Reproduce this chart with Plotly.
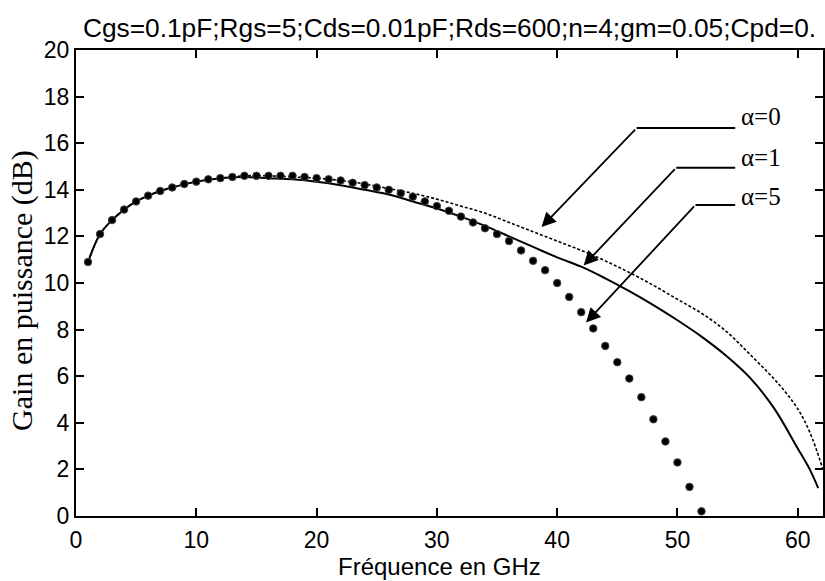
import plotly.graph_objects as go

# Gain en puissance vs fréquence for three values of alpha
freq_a0 = [1, 2, 3, 4, 5, 6, 7, 8, 10, 12, 14, 16, 18, 20, 22, 24, 26, 28, 30, 32, 34,
           36, 38, 40, 42, 44, 46, 48, 50, 52, 54, 56, 58, 59, 60, 61, 62.1]
gain_a0 = [10.9, 12.1, 12.7, 13.15, 13.5, 13.75, 13.95, 14.1, 14.35, 14.5, 14.6, 14.6,
           14.55, 14.5, 14.4, 14.25, 14.05, 13.85, 13.6, 13.3, 13.0, 12.6, 12.2, 11.8,
           11.4, 10.95, 10.45, 9.9, 9.3, 8.7, 7.95, 6.95, 5.9, 5.3, 4.6, 3.6, 2.0]

freq_a1 = [1, 2, 3, 4, 5, 6, 7, 8, 10, 12, 14, 16, 18, 20, 22, 24, 26, 28, 30, 32, 34,
           36, 38, 40, 42, 44, 46, 48, 50, 52, 54, 56, 58, 60, 61, 61.7]
gain_a1 = [10.9, 12.1, 12.7, 13.15, 13.5, 13.75, 13.95, 14.1, 14.35, 14.5, 14.55, 14.5,
           14.45, 14.35, 14.2, 14.0, 13.8, 13.5, 13.2, 12.85, 12.45, 12.0, 11.55, 11.1,
           10.7, 10.2, 9.65, 9.05, 8.4, 7.7, 6.9, 5.95, 4.65, 2.9, 2.0, 1.2]

freq_a5 = list(range(1, 53))
gain_a5 = [10.9, 12.1, 12.7, 13.15, 13.5, 13.75, 13.95, 14.1, 14.25, 14.35, 14.45, 14.5,
           14.55, 14.6, 14.6, 14.6, 14.6, 14.6, 14.55, 14.5, 14.45, 14.4, 14.3, 14.2,
           14.1, 14.0, 13.85, 13.7, 13.5, 13.3, 13.1, 12.85, 12.6, 12.35, 12.1, 11.8,
           11.4, 10.95, 10.55, 10.0, 9.4, 8.75, 8.05, 7.3, 6.6, 5.9, 5.1, 4.15, 3.2,
           2.3, 1.25, 0.2]

x_ticks = [0, 10, 20, 30, 40, 50, 60]
y_ticks = [0, 2, 4, 6, 8, 10, 12, 14, 16, 18, 20]

# Callout labels: text, label height, arrow tip (x, y), elbow (x, y)
callout_text = ["\u03b1=0", "\u03b1=1", "\u03b1=5"]
callout_text_y = [17.15, 15.4, 13.7]
callout_tip_x = [38.7, 42.2, 42.4]
callout_tip_y = [12.4, 10.75, 8.3]
callout_elbow_x = [46.6, 49.9, 51.5]
callout_elbow_y = [16.65, 14.95, 13.35]
callout_end_x = 54.8
callout_label_x = 55.1

title_text = "Cgs=0.1pF;Rgs=5;Cds=0.01pF;Rds=600;n=4;gm=0.05;Cpd=0."

W, H = 825, 581
ML, MR, MT, MB = 76, 2, 50, 65

fig = go.Figure()

fig.add_trace(go.Scatter(
    x=freq_a0, y=gain_a0, mode="lines", name="\u03b1=0",
    line=dict(color="black", width=1.6, dash="3px,2px", shape="spline"),
))
fig.add_trace(go.Scatter(
    x=freq_a1, y=gain_a1, mode="lines", name="\u03b1=1",
    line=dict(color="black", width=2, shape="spline"),
))
fig.add_trace(go.Scatter(
    x=freq_a5, y=gain_a5, mode="markers", name="\u03b1=5",
    marker=dict(color="black", size=7.5, symbol="circle",
                line=dict(color="#444", width=1)),
))

sans = "Liberation Sans, Arial, sans-serif"
serif = "Liberation Serif, Times New Roman, serif"

for i, txt in enumerate(callout_text):
    fig.add_shape(type="line", xref="x", yref="y",
                  x0=callout_elbow_x[i], y0=callout_elbow_y[i],
                  x1=callout_end_x, y1=callout_elbow_y[i],
                  line=dict(color="black", width=2))
    fig.add_annotation(x=callout_tip_x[i], y=callout_tip_y[i],
                       ax=callout_elbow_x[i], ay=callout_elbow_y[i],
                       xref="x", yref="y", axref="x", ayref="y",
                       text="", showarrow=True, arrowhead=2, arrowsize=1.6,
                       arrowwidth=1.8, arrowcolor="black")
    fig.add_annotation(x=callout_label_x, y=callout_text_y[i], xref="x", yref="y",
                       text=txt, showarrow=False, xanchor="left", yanchor="middle",
                       font=dict(family=serif, size=25, color="black"))

# Axis titles
fig.add_annotation(text="Gain en puissance (dB)", xref="paper", yref="paper",
                   x=(22 - ML) / (W - ML - MR), y=0.483, textangle=-90,
                   showarrow=False, xanchor="center", yanchor="middle",
                   font=dict(family=serif, size=30, color="black"))
fig.add_annotation(text="Fréquence en GHz", xref="paper", yref="paper",
                   x=0.487, y=-(566 - (H - MB)) / (H - MT - MB), showarrow=False,
                   xanchor="center", yanchor="middle",
                   font=dict(family=sans, size=24, color="black"))

axis_common = dict(
    showgrid=False, zeroline=False, showline=True, linecolor="black", linewidth=2.2,
    mirror="ticks", ticks="inside", ticklen=8, tickwidth=1.5, tickcolor="black",
    tickfont=dict(family=sans, size=23, color="black"),
)

fig.update_layout(
    width=W, height=H,
    margin=dict(l=ML, r=MR, t=MT, b=MB, autoexpand=False),
    paper_bgcolor="white", plot_bgcolor="white",
    showlegend=False,
    title=dict(text=title_text, x=0.5, xref="paper", y=1 - 28 / H, yref="container",
               xanchor="center", yanchor="middle",
               font=dict(family=sans, size=26.3, color="black")),
    xaxis=dict(range=[0, 62.1], tickvals=x_ticks, ticklabelstandoff=2, **axis_common),
    yaxis=dict(range=[0, 20], tickvals=y_ticks, **axis_common),
)

fig.write_html("out.html")
